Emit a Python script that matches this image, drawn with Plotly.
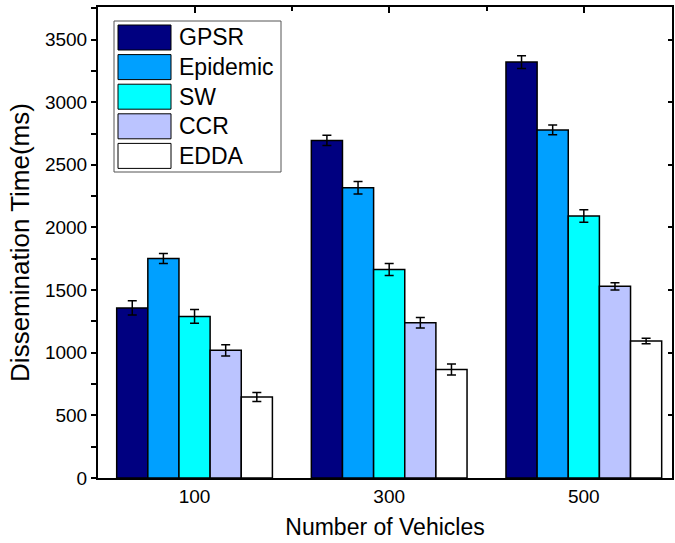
import plotly.graph_objects as go

categories = ["100", "300", "500"]
series_names = ["GPSR", "Epidemic", "SW", "CCR", "EDDA"]
gpsr = [1358, 2695, 3320]
epidemic = [1753, 2317, 2779]
sw = [1290, 1665, 2091]
ccr = [1019, 1239, 1530]
edda = [646, 867, 1093]
gpsr_err = [57, 41, 50]
epidemic_err = [40, 50, 39]
sw_err = [55, 48, 50]
ccr_err = [45, 42, 29]
edda_err = [36, 44, 22]
y_tick_vals = [0, 500, 1000, 1500, 2000, 2500, 3000, 3500]

values = [gpsr, epidemic, sw, ccr, edda]
errors = [gpsr_err, epidemic_err, sw_err, ccr_err, edda_err]
colors = ["#000080", "#00A0FF", "#00FFFF", "#BBC4FF", "#FFFFFF"]

W, H = 675, 543
L, R, T, B = 98, 3, 7, 65
FONT = "Arial, Liberation Sans, sans-serif"

xpos = list(range(len(categories)))

fig = go.Figure()
for name, vals, errs, col in zip(series_names, values, errors, colors):
    fig.add_trace(go.Bar(
        x=xpos, y=vals, name=name,
        marker=dict(color=col, line=dict(color="#000000", width=1.5)),
        error_y=dict(type="data", array=errs, color="#000000", thickness=1.5, width=4.5),
        showlegend=False,
    ))
# empty trace to anchor the mirrored top/right axes
fig.add_trace(go.Scatter(x=[], y=[], xaxis="x2", yaxis="y2", showlegend=False))

xr = [-0.496, 2.453]
yr = [0, 3760]

fig.update_layout(
    width=W, height=H,
    margin=dict(l=L, r=R, t=T, b=B),
    paper_bgcolor="white", plot_bgcolor="white",
    barmode="group", bargap=0.2, bargroupgap=0,
    font=dict(family=FONT, color="#000000"),
    xaxis=dict(
        range=xr, tickvals=xpos, ticktext=categories,
        showgrid=False, zeroline=False,
        showline=True, linecolor="#000000", linewidth=2,
        ticks="", tickfont=dict(size=19, family=FONT),
        title=dict(text="Number of Vehicles", font=dict(size=23, family=FONT), standoff=13),
    ),
    yaxis=dict(
        range=yr, tickvals=y_tick_vals,
        showgrid=False, zeroline=False,
        showline=True, linecolor="#000000", linewidth=2,
        ticks="outside", ticklen=5, tickwidth=1.5, tickcolor="#000000",
        minor=dict(ticks="outside", ticklen=5, tickwidth=1.5, tickcolor="#000000", dtick=250, tick0=0),
        tickfont=dict(size=19, family=FONT),
        title=dict(text="Dissemination Time(ms)", font=dict(size=26, family=FONT), standoff=8),
    ),
    xaxis2=dict(
        overlaying="x", side="top", anchor="y2", range=xr,
        tickvals=xpos, showticklabels=False,
        showgrid=False, zeroline=False,
        showline=True, linecolor="#000000", linewidth=1.5,
        ticks="inside", ticklen=6, tickwidth=1.5, tickcolor="#000000",
        minor=dict(ticks="inside", ticklen=4, tickwidth=1.5, tickcolor="#000000", dtick=0.5, tick0=0),
    ),
    yaxis2=dict(
        overlaying="y", side="right", anchor="x2", range=yr,
        tickvals=y_tick_vals, showticklabels=False,
        showgrid=False, zeroline=False,
        showline=True, linecolor="#000000", linewidth=1.5,
        ticks="inside", ticklen=4, tickwidth=1.5, tickcolor="#000000",
    ),
)

# custom legend (large swatches, as in the reference)
pw, ph = W - L - R, H - T - B

def px_x(p):
    return (p - L) / pw

def px_y(p):
    return (H - B - p) / ph

box = dict(x0=114, x1=281, y0=21, y1=172)
fig.add_shape(type="rect", xref="paper", yref="paper",
              x0=px_x(box["x0"]), x1=px_x(box["x1"]),
              y0=px_y(box["y1"]), y1=px_y(box["y0"]),
              line=dict(color="#555555", width=1), fillcolor="white", layer="above")
for i, (name, col) in enumerate(zip(series_names, colors)):
    top = 25 + i * 29.6
    fig.add_shape(type="rect", xref="paper", yref="paper",
                  x0=px_x(118), x1=px_x(171), y0=px_y(top + 25), y1=px_y(top),
                  line=dict(color="#000000", width=1), fillcolor=col, layer="above")
    fig.add_annotation(xref="paper", yref="paper", x=px_x(177), y=px_y(top + 12.5),
                       text=name, showarrow=False, xanchor="left", yanchor="middle",
                       font=dict(size=23, family=FONT, color="#000000"))

fig.write_html("out.html")
